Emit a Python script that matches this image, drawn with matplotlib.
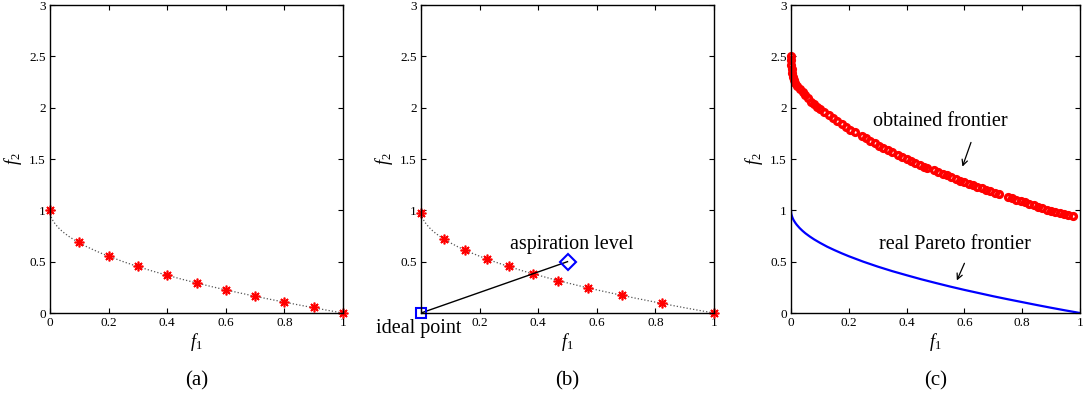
import numpy as np
import matplotlib
matplotlib.use("Agg")
import matplotlib.pyplot as plt

plt.rcParams['font.family'] = ['Liberation Serif', 'DejaVu Serif']
plt.rcParams['mathtext.fontset'] = 'custom'
plt.rcParams['mathtext.it'] = 'Liberation Serif:italic'
plt.rcParams['mathtext.rm'] = 'Liberation Serif'
plt.rcParams['mathtext.default'] = 'it'

# (a) evenly spread solutions
a_f1 = [0, 0.1, 0.2, 0.3, 0.4, 0.5, 0.6, 0.7, 0.8, 0.9, 1.0]
a_f2 = [1.0, 0.688, 0.555, 0.454, 0.37, 0.292, 0.224, 0.165, 0.107, 0.055, 0.0]

# (b) solutions near the aspiration level
b_f1 = [0, 0.08, 0.151, 0.224, 0.302, 0.381, 0.469, 0.570, 0.686, 0.824, 1.0]
b_f2 = [0.973, 0.72, 0.61, 0.529, 0.454, 0.383, 0.315, 0.243, 0.175, 0.097, 0.0]
ideal = (0.0, 0.0)
aspiration = (0.5, 0.5)

# true Pareto front
pf_f1 = [0, 0.0005, 0.001, 0.002, 0.004, 0.007, 0.01, 0.015, 0.02, 0.03, 0.04,
         0.05, 0.065, 0.08, 0.1, 0.125, 0.15, 0.175, 0.2, 0.25, 0.3, 0.35,
         0.4, 0.45, 0.5, 0.55, 0.6, 0.65, 0.7, 0.75, 0.8, 0.85, 0.9, 0.95, 1.0]
pf_f2 = [1.0, 0.978, 0.968, 0.955, 0.937, 0.916, 0.90, 0.878, 0.859, 0.827,
         0.80, 0.776, 0.745, 0.717, 0.684, 0.646, 0.613, 0.582, 0.553, 0.50,
         0.452, 0.408, 0.368, 0.329, 0.293, 0.258, 0.225, 0.194, 0.163, 0.134,
         0.106, 0.078, 0.051, 0.025, 0.0]

# (c) obtained frontier
c_f1 = [0, 0, 0.001, 0.002, 0.004, 0.006, 0.01, 0.015, 0.02, 0.03, 0.04, 0.05,
        0.06, 0.07, 0.08, 0.09, 0.10, 0.115, 0.13, 0.145, 0.16, 0.175, 0.19,
        0.205, 0.22,
        0.245, 0.26, 0.275, 0.29, 0.305, 0.32, 0.335, 0.35,
        0.37, 0.385, 0.40, 0.415, 0.43, 0.445, 0.46, 0.47,
        0.495, 0.51, 0.525, 0.54, 0.555, 0.57, 0.585, 0.60, 0.615, 0.63,
        0.645, 0.66, 0.675, 0.69, 0.705, 0.72,
        0.75, 0.765, 0.78, 0.795, 0.81, 0.825, 0.84, 0.855, 0.87, 0.885,
        0.90, 0.915, 0.93, 0.945, 0.96, 0.975]
c_f2 = [2.50, 2.46, 2.42, 2.38, 2.34, 2.30, 2.27, 2.24, 2.21, 2.18, 2.15, 2.12,
        2.09, 2.06, 2.04, 2.01, 1.99, 1.96, 1.93, 1.90, 1.87, 1.84, 1.81,
        1.78, 1.76,
        1.72, 1.70, 1.68, 1.66, 1.63, 1.61, 1.59, 1.57,
        1.54, 1.52, 1.50, 1.48, 1.46, 1.44, 1.42, 1.41,
        1.39, 1.37, 1.35, 1.34, 1.32, 1.31, 1.29, 1.28, 1.26, 1.25,
        1.23, 1.22, 1.20, 1.19, 1.17, 1.16,
        1.13, 1.12, 1.10, 1.09, 1.08, 1.06, 1.05, 1.03, 1.02, 1.00,
        0.99, 0.98, 0.97, 0.96, 0.95, 0.94]

xticks = [0, 0.2, 0.4, 0.6, 0.8, 1]
yticks = [0, 0.5, 1, 1.5, 2, 2.5, 3]

fig = plt.figure(figsize=(10.85, 3.96), dpi=100)
lefts = [50 / 1085, 421 / 1085, 791 / 1085]
widths = [293 / 1085, 293 / 1085, 289 / 1085]
axes = [fig.add_axes([l, 83 / 396, w, 308 / 396]) for l, w in zip(lefts, widths)]

ast = (8, 2, 0)
for ax in axes:
    ax.set_xlim(0, 1)
    ax.set_ylim(0, 3)
    ax.set_xticks(xticks)
    ax.set_yticks(yticks)
    ax.set_xticklabels(['0', '0.2', '0.4', '0.6', '0.8', '1'])
    ax.set_yticklabels(['0', '0.5', '1', '1.5', '2', '2.5', '3'])
    ax.tick_params(direction='in', top=True, right=True, length=3.5,
                   labelsize=9.5, pad=3, width=0.8)
    for s in ax.spines.values():
        s.set_linewidth(1.0)
    ax.set_xlabel(r'$f_1$', fontsize=13, labelpad=1)
    ax.set_ylabel(r'$f_2$', fontsize=13, labelpad=4)

# (a)
ax = axes[0]
ax.plot(pf_f1, pf_f2, ':', color='#555555', lw=0.9)
ax.plot(a_f1, a_f2, ls='none', marker=ast, color='red', ms=7, mew=1.2, clip_on=False)

# (b)
ax = axes[1]
ax.plot(pf_f1, pf_f2, ':', color='#555555', lw=0.9)
ax.plot(b_f1, b_f2, ls='none', marker=ast, color='red', ms=7, mew=1.2, clip_on=False)
ax.plot([ideal[0], aspiration[0]], [ideal[1], aspiration[1]], color='black', lw=1.0)
ax.plot([ideal[0]], [ideal[1]], ls='none', marker='s', mfc='none', mec='blue',
        ms=7, mew=1.5, clip_on=False)
ax.plot([aspiration[0]], [aspiration[1]], ls='none', marker='D', mfc='none',
        mec='blue', ms=8, mew=1.5)
ax.set_xticklabels(['', '0.2', '0.4', '0.6', '0.8', '1'])
ax.set_yticklabels(['', '0.5', '1', '1.5', '2', '2.5', '3'])
ax.text(0.514, 0.67, 'aspiration level', fontsize=14.5, ha='center', va='center')
ax.text(-0.007, -0.155, 'ideal point', fontsize=14.5, ha='center', va='center')

# (c)
ax = axes[2]
ax.plot(pf_f1, pf_f2, color='blue', lw=1.6)
ax.plot(c_f1, c_f2, ls='none', marker='o', mfc='none', mec='red', ms=4.2,
        mew=2.4, clip_on=False)
ax.text(0.517, 1.865, 'obtained frontier', fontsize=14.5, ha='center', va='center')
ax.annotate('', xy=(0.59, 1.40), xytext=(0.626, 1.687),
            arrowprops=dict(arrowstyle='->', color='black', lw=0.9))
ax.text(0.567, 0.665, 'real Pareto frontier', fontsize=14.5, ha='center', va='center')
ax.annotate('', xy=(0.57, 0.292), xytext=(0.604, 0.509),
            arrowprops=dict(arrowstyle='->', color='black', lw=0.9))

for ax, lab in zip(axes, ['(a)', '(b)', '(c)']):
    ax.text(0.5, -0.22, lab, transform=ax.transAxes, fontsize=15,
            ha='center', va='center')

fig.savefig('out.png', dpi=100)
